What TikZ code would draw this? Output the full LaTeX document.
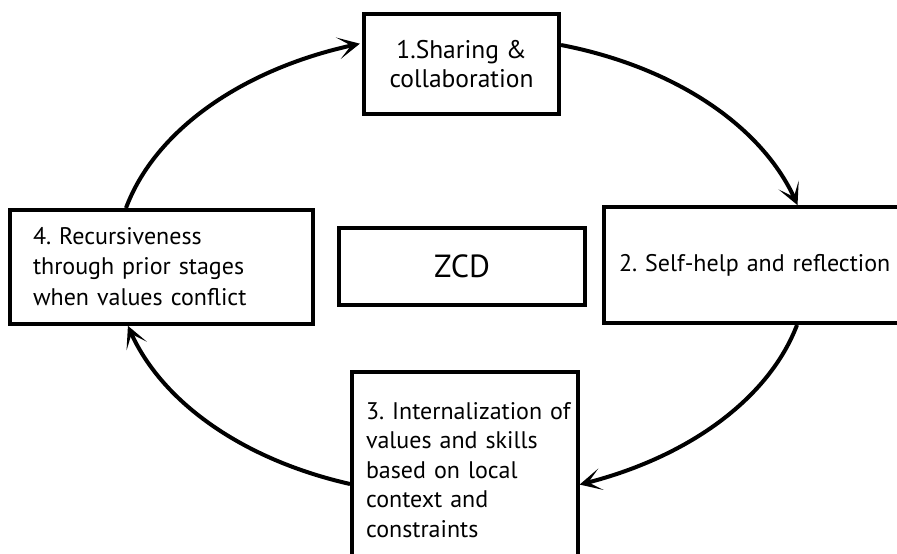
\documentclass[tikz,border=0pt]{standalone}
\usepackage{fontspec}
\setmainfont{PT Sans}
\usetikzlibrary{arrows.meta,bending}
\begin{document}
\frenchspacing
\begin{tikzpicture}[x=1pt,y=1pt,
  box/.style={draw, line width=4pt, rectangle, inner sep=0pt,
    font=\fontsize{24}{29.5}\selectfont},
  arr/.style={line width=4pt, -{Stealth[length=22pt,width=22pt,inset=13pt]}}]
\useasboundingbox (0,0) rectangle (897,554);
\node[box, minimum width=195pt, minimum height=100pt, align=center, font=\fontsize{25.5}{29.5}\selectfont] (n1) at (461.5,490) {1.Sharing \&\\collaboration};
\node[box, minimum width=306pt, minimum height=116pt, text width=276pt, align=left] (n2) at (757,289) {\mbox{2. Self-help and reflection}};
\node[box, minimum width=226pt, minimum height=196pt, text width=198pt, align=left] (n3) at (465,84) {\mbox{3. Internalization of}\\\mbox{values and skills}\\\mbox{based on local}\\\mbox{context and}\\\mbox{constraints}};
\node[box, minimum width=303pt, minimum height=114pt, text width=257pt, align=left] (n4) at (161.5,287) {\mbox{4. Recursiveness}\\\mbox{through prior stages}\\[2pt]\mbox{when values conflict}};
\node[box, minimum width=246pt, minimum height=77pt, font=\fontsize{32}{38}\selectfont] (z) at (462,287.5) {ZCD};
\draw[arr] ([xshift=118pt]n4.north west) arc[start angle=166, end angle=107, x radius=345pt, y radius=230pt];
\draw[arr] ([yshift=-33pt]n1.north east) arc[start angle=73.8, end angle=15.3, x radius=345pt, y radius=230pt];
\draw[arr] ([xshift=195pt]n2.south west) arc[start angle=-14.3, end angle=-70.2, x radius=345pt, y radius=230pt];
\draw[arr] ([yshift=-114pt]n3.north west) arc[start angle=251.2, end angle=195, x radius=345pt, y radius=230pt];
\end{tikzpicture}
\end{document}
